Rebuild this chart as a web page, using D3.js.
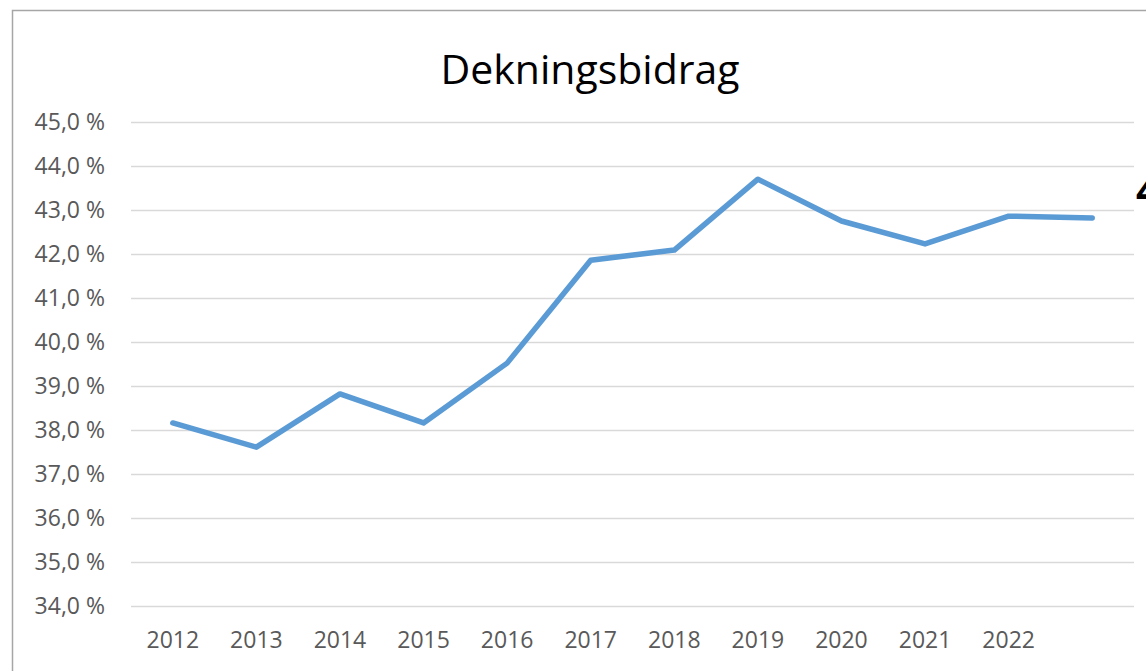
<!DOCTYPE html>
<html>
<head>
<meta charset="utf-8">
<script src="https://cdn.jsdelivr.net/npm/d3@7"></script>
<style>
  body { margin: 0; background: #fff; overflow: hidden; }
  svg { display: block; font-family: "Open Sans", "Noto Sans", sans-serif; }
</style>
</head>
<body>
<script>
// chart data
let years = ["2012", "2013", "2014", "2015", "2016", "2017", "2018", "2019", "2020", "2021", "2022", ""]
let dekningsbidrag = [38.16, 37.61, 38.82, 38.16, 39.52, 41.86, 42.09, 43.70, 42.75, 42.23, 42.86, 42.82]
let yTicks = [34, 35, 36, 37, 38, 39, 40, 41, 42, 43, 44, 45]

let w = 1146
let h = 671
let m = {left: 131, right: 12, top: 122, bottom: 65}

let svg = d3.select("body")
            .append("svg")
                .attr("width", w)
                .attr("height", h)

// chart frame (continues past the right edge)
svg.append("path")
    .attr("d", "M12.5," + h + "V10.5H" + w)
    .attr("fill", "none")
    .attr("stroke", "#a6a6a6")
    .attr("stroke-width", 1.5)

svg.append("text")
    .attr("x", 590)
    .attr("y", 84)
    .attr("text-anchor", "middle")
    .attr("font-size", 41)
    .attr("fill", "#000")
    .text("Dekningsbidrag")

let x = d3.scaleBand()
            .domain(d3.range(years.length))
            .range([m.left, w - m.right])

let y = d3.scaleLinear()
            .domain([34, 45])
            .range([h - m.bottom, m.top])

// gridlines
svg.append("g")
    .attr("transform", "translate(" + m.left + ",0)")
    .call(d3.axisLeft(y)
            .tickValues(yTicks)
            .tickSize(-(w - m.left - m.right))
            .tickFormat(""))
    .call(g => g.select(".domain").remove())
    .call(g => g.selectAll("line").attr("stroke", "#d9d9d9").attr("stroke-width", 1.5))

// y labels
let fmt = v => d3.format(".1f")(v).replace(".", ",") + "\u00a0%"
svg.append("g")
    .attr("transform", "translate(105,0)")
    .call(d3.axisLeft(y).tickValues(yTicks).tickSize(0).tickPadding(0).tickFormat(fmt))
    .call(g => g.select(".domain").remove())
    .call(g => g.selectAll("text")
                .attr("font-family", "Open Sans, sans-serif")
                .attr("font-size", 23)
                .attr("fill", "#595959"))

// x labels
svg.append("g")
    .attr("transform", "translate(0," + (h - m.bottom) + ")")
    .call(d3.axisBottom(x).tickSize(0).tickPadding(26).tickFormat(i => years[i]))
    .call(g => g.select(".domain").remove())
    .call(g => g.selectAll("text")
                .attr("font-family", "Open Sans, sans-serif")
                .attr("font-size", 23)
                .attr("fill", "#595959"))

let line = d3.line()
            .x((d, i) => x(i) + x.bandwidth() / 2)
            .y(d => y(d))

svg.append("path")
    .datum(dekningsbidrag)
    .attr("d", line)
    .attr("fill", "none")
    .attr("stroke", "#5b9bd5")
    .attr("stroke-width", 5.5)
    .attr("stroke-linecap", "round")
    .attr("stroke-linejoin", "round")

// cropped glyph from the neighbouring chart
svg.append("text")
    .attr("x", 1136)
    .attr("y", 205)
    .attr("font-size", 40)
    .attr("font-weight", "bold")
    .attr("fill", "#000")
    .text("4")
</script>
</body>
</html>
